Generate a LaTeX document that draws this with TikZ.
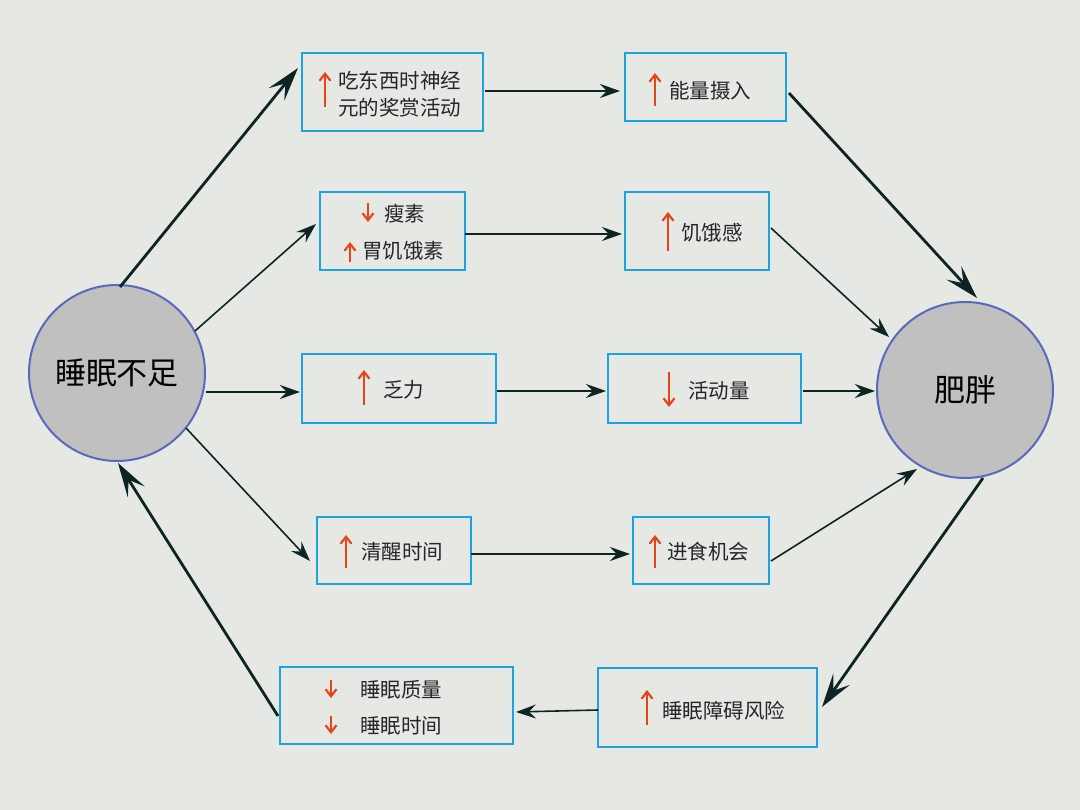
\documentclass[tikz,border=0pt]{standalone}
\usepackage{fontspec}
\setmainfont{Noto Sans CJK SC}
\usetikzlibrary{arrows.meta}
\definecolor{bg}{HTML}{E6E9E3}
\definecolor{bx}{HTML}{1BA3E6}
\definecolor{cf}{HTML}{C0C0C0}
\definecolor{cb}{HTML}{5A68BE}
\definecolor{rd}{HTML}{E8441A}
\definecolor{ln}{HTML}{0E2424}
\begin{document}
\begin{tikzpicture}[x=1pt,y=-1pt,
 box/.style={draw=bx,line width=2.2pt,fill=bg},
 circ/.style={circle,draw=cb,fill=cf,line width=2pt,minimum size=176pt,inner sep=0pt,font=\fontsize{31}{31}\selectfont},
 con/.style={draw=ln,line width=1.6pt,-{Stealth[length=20pt,width=14pt,inset=7pt]}},
 thk/.style={draw=ln,line width=2.8pt,-{Stealth[length=34pt,width=20pt,inset=14pt]}},
 ra/.style={draw=rd,line width=2.2pt,-{Straight Barb[length=7pt,width=11pt]}},
 t/.style={anchor=west,inner sep=0pt,font=\fontsize{20.5}{20.5}\selectfont,text=black!85}]
\fill[bg] (0,0) rectangle (1080,810);
\useasboundingbox (0,0) rectangle (1080,810);
\node[circ] (L) at (117,373) {睡眠不足};
\node[circ] (R) at (965,390) {肥胖};
\draw[box] (302,53) rectangle (483,131); \draw[box] (625,53) rectangle (786,121);
\draw[box] (320,192) rectangle (465,270); \draw[box] (625,192) rectangle (769,270);
\draw[box] (302,354) rectangle (496,423); \draw[box] (608,354) rectangle (801,423);
\draw[box] (317,517) rectangle (471,584); \draw[box] (633,517) rectangle (769,584);
\draw[box] (280,667) rectangle (513,744); \draw[box] (598,668) rectangle (817,747);
% text
\draw[ra] (325,107) -- (325,72);
\node[t] (a1) at (338,81) {吃东西时神经}; \node[t] (a1b) at (338,108) {元的奖赏活动};
\draw[ra] (655,106) -- (655,73); \node[t] (a2) at (669,91) {能量摄入};
\draw[ra] (368,203) -- (368,222); \node[t] (b1) at (384,214) {瘦素};
\draw[ra] (350,262) -- (350,242); \node[t] (b1b) at (362,251) {胃饥饿素};
\draw[ra] (668,251) -- (668,212); \node[t] (b2) at (681,233) {饥饿感};
\draw[ra] (364,405) -- (364,370); \node[t] (c1) at (383,390) {乏力};
\draw[ra] (669,372) -- (669,407); \node[t] (c2) at (688,391) {活动量};
\draw[ra] (346,568) -- (346,535); \node[t] (d1) at (361,552) {清醒时间};
\draw[ra] (655,568) -- (655,535); \node[t] (d2) at (667,552) {进食机会};
\draw[ra] (331,680) -- (331,698); \node[t] (e1) at (360,690) {睡眠质量};
\draw[ra] (331,716) -- (331,734); \node[t] (e1b) at (360,726) {睡眠时间};
\draw[ra] (647,725) -- (647,690); \node[t] (e2) at (662,711) {睡眠障碍风险};
% connectors
\coordinate (p1) at (120,287); \coordinate (q1) at (298,68);
\coordinate (p2) at (195,331); \coordinate (q2) at (316,224);
\coordinate (p3) at (206,392); \coordinate (q3) at (300,392);
\coordinate (p4) at (186,428); \coordinate (q4) at (310,561);
\coordinate (p5) at (278,716); \coordinate (q5) at (118,463);
\draw[thk] (p1) -- (q1);
\draw[con] (p2) -- (q2);
\draw[con] (p3) -- (q3);
\draw[con] (p4) -- (q4);
\draw[thk] (p5) -- (q5);
\draw[con] (485,91) -- (620,91);
\draw[con] (465,234) -- (622,234);
\draw[con] (497,391) -- (606,391);
\draw[con] (471,554) -- (630,554);
\draw[con] (598,710) -- (516,712);
\draw[thk] (789,93) -- (977,298);
\draw[con] (771,228) -- (889,337);
\draw[con] (803,391) -- (875,391);
\draw[con] (771,561) -- (917,469);
\draw[thk] (983,478) -- (822,707);
\end{tikzpicture}
\end{document}
